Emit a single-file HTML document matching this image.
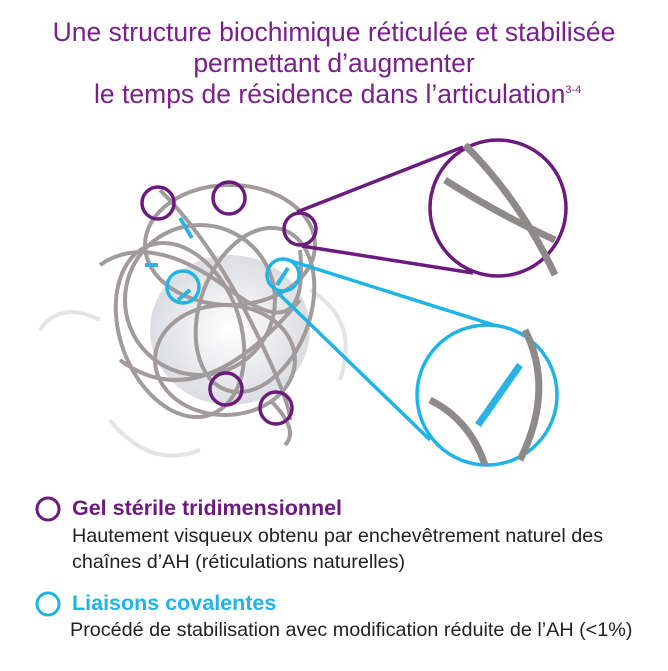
<!DOCTYPE html><html><head><meta charset="utf-8"><style>
body{margin:0;width:668px;height:671px;background:#fff;font-family:"Liberation Sans",sans-serif;overflow:hidden;position:relative}
.t{position:absolute;left:0;width:668px;text-align:center;color:#7a1f8c;font-size:26.5px;line-height:31px}
.l{position:absolute;font-size:19.8px;color:#222;white-space:nowrap}
.h{position:absolute;font-size:21.5px;font-weight:bold}
</style></head><body>
<div class="t" style="top:17px">Une structure biochimique réticulée et stabilisée<br>permettant d’augmenter</div>
<div class="t" style="top:79px">&nbsp;le temps de résidence dans l’articulation<sup style="font-size:11px;vertical-align:10px;line-height:0">3-4</sup></div>
<svg width="668" height="671" style="position:absolute;left:0;top:0">
<defs><radialGradient id="g"><stop offset="0" stop-color="#fff"/><stop offset="1" stop-color="#dcdde2"/></radialGradient></defs>
<g fill="none" stroke="#e4e4e6" stroke-width="4"><path d="M100 320 Q60 300 40 330"/><path d="M310 290 Q360 320 340 380"/><path d="M110 420 Q150 470 200 450"/></g>
<ellipse cx="230" cy="330" rx="80" ry="75" fill="url(#g)"/>
<g fill="none" stroke="#a19b9b" stroke-width="4">
<ellipse cx="230" cy="245" rx="85" ry="60"/>
<ellipse cx="200" cy="300" rx="75" ry="75"/>
<ellipse cx="255" cy="310" rx="55" ry="85" transform="rotate(20 255 310)"/>
<ellipse cx="225" cy="360" rx="70" ry="55"/>
<ellipse cx="180" cy="330" rx="60" ry="90" transform="rotate(-20 180 330)"/>
<path d="M100 265 Q150 230 230 290 T300 250"/>
<path d="M160 190 Q210 240 250 320 T290 420"/>
<path d="M120 360 Q200 420 300 300"/>
<path d="M270 400 Q300 430 285 445"/>
</g>
<g stroke="#2ab3e3" stroke-width="4"><line x1="180" y1="218" x2="192" y2="238"/><line x1="145" y1="265" x2="158" y2="265"/><line x1="178" y1="300" x2="190" y2="290"/><line x1="277" y1="285" x2="288" y2="268"/></g>
<g fill="none" stroke="#6b1a7e" stroke-width="3.5">
<circle cx="158" cy="203" r="16"/><circle cx="229" cy="198" r="16"/><circle cx="300" cy="229" r="16"/><circle cx="226" cy="389" r="16"/><circle cx="276" cy="408" r="16"/>
<line x1="297" y1="212" x2="463" y2="147"/><line x1="302" y1="246" x2="473" y2="273"/>
<circle cx="498" cy="208" r="68" fill="#fff"/>
</g>
<g fill="none" stroke="#1fb4e6" stroke-width="3.5">
<circle cx="183" cy="287" r="16"/><circle cx="283" cy="275" r="16"/>
<line x1="285" y1="259" x2="500" y2="327"/><line x1="277" y1="292" x2="430" y2="440"/>
<circle cx="487" cy="395" r="70" fill="#fff"/>
</g>
<g fill="none" stroke="#8f8a8a" stroke-width="7"><path d="M465 145 Q520 200 555 275"/><path d="M445 180 Q500 215 555 240"/><path d="M525 330 Q555 390 520 460"/><path d="M430 400 Q470 420 485 465"/></g>
<line x1="478" y1="425" x2="520" y2="365" stroke="#2ab3e3" stroke-width="7"/>
<circle cx="48" cy="509" r="11" fill="none" stroke="#6b1a7e" stroke-width="3"/>
<circle cx="48" cy="604" r="11" fill="none" stroke="#1fb4e6" stroke-width="3"/>
</svg>
<div class="h" style="left:72px;top:496px;color:#6b1a7e">Gel stérile tridimensionnel</div>
<div class="l" style="left:72px;top:523px;line-height:26px">Hautement visqueux obtenu par enchevêtrement naturel des<br>chaînes d’AH (réticulations naturelles)</div>
<div class="h" style="left:72px;top:591px;color:#1fb4e6">Liaisons covalentes</div>
<div class="l" style="left:70px;top:619px">Procédé de stabilisation avec modification réduite de l’AH (&lt;1%)</div>
</body></html>
